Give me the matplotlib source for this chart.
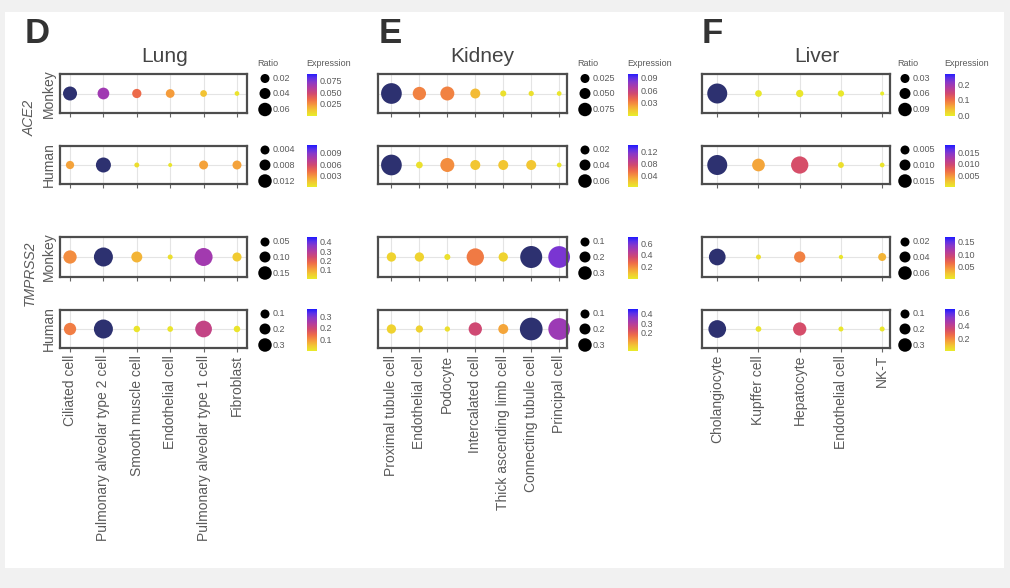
import matplotlib
matplotlib.use('Agg')
import matplotlib.pyplot as plt
import numpy as np
from matplotlib.colors import LinearSegmentedColormap, Normalize
from matplotlib.cm import ScalarMappable
from matplotlib.patches import Rectangle

plt.rcParams['font.family'] = ['Liberation Sans', 'DejaVu Sans']

# ---------------- DATA ----------------
tissues = ['Lung', 'Kidney', 'Liver']
panel_letters = ['D', 'E', 'F']
row_species = ['Monkey', 'Human', 'Monkey', 'Human']
gene_names = ['ACE2', 'TMPRSS2']

lung_cells = ['Ciliated cell', 'Pulmonary alveolar type 2 cell', 'Smooth muscle cell',
              'Endothelial cell', 'Pulmonary alveolar type 1 cell', 'Fibroblast']
kidney_cells = ['Proximal tubule cell', 'Endothelial cell', 'Podocyte', 'Intercalated cell',
                'Thick ascending limb cell', 'Connecting tubule cell', 'Principal cell']
liver_cells = ['Cholangiocyte', 'Kupffer cell', 'Hepatocyte', 'Endothelial cell', 'NK-T']

# Ratio (fraction of cells expressing) -> dot size; rows: ACE2 monkey, ACE2 human, TMPRSS2 monkey, TMPRSS2 human
lung_ratio = [[0.065, 0.038, 0.017, 0.014, 0.005, 0.002],
              [0.0022, 0.013, 0.0004, 0.0003, 0.0029, 0.0029],
              [0.063, 0.17, 0.035, 0.005, 0.147, 0.019],
              [0.086, 0.32, 0.011, 0.010, 0.222, 0.011]]
kidney_ratio = [[0.085, 0.026, 0.030, 0.011, 0.0026, 0.0021, 0.002],
                [0.065, 0.002, 0.0226, 0.008, 0.008, 0.008, 0.001],
                [0.023, 0.023, 0.010, 0.16, 0.023, 0.31, 0.30],
                [0.027, 0.014, 0.010, 0.078, 0.033, 0.33, 0.294]]
liver_ratio = [[0.10, 0.0038, 0.0052, 0.003, 0.001],
               [0.017, 0.0049, 0.0116, 0.0004, 0.0003],
               [0.065, 0.0022, 0.022, 0.002, 0.0076],
               [0.33, 0.006, 0.144, 0.005, 0.005]]

# Expression -> colour
lung_expr = [[0.10, 0.065, 0.035, 0.022, 0.012, 0.003],
             [0.0025, 0.013, 0.0006, 0.0003, 0.0025, 0.0025],
             [0.13, 0.55, 0.08, 0.02, 0.32, 0.05],
             [0.12, 0.40, 0.01, 0.01, 0.21, 0.01]]
kidney_expr = [[0.12, 0.032, 0.032, 0.016, 0.004, 0.004, 0.002],
               [0.16, 0.006, 0.040, 0.018, 0.018, 0.018, 0.004],
               [0.06, 0.06, 0.03, 0.24, 0.06, 0.80, 0.58],
               [0.04, 0.04, 0.02, 0.24, 0.10, 0.50, 0.33]]
liver_expr = [[0.30, 0.005, 0.006, 0.004, 0.001],
              [0.020, 0.004, 0.009, 0.0008, 0.0005],
              [0.20, 0.008, 0.055, 0.004, 0.030],
              [0.75, 0.020, 0.33, 0.015, 0.015]]

# Legend breaks and labels
lung_ratio_breaks = [[0.02, 0.04, 0.06], [0.004, 0.008, 0.012], [0.05, 0.10, 0.15], [0.1, 0.2, 0.3]]
lung_ratio_labels = [['0.02', '0.04', '0.06'], ['0.004', '0.008', '0.012'], ['0.05', '0.10', '0.15'], ['0.1', '0.2', '0.3']]
kidney_ratio_breaks = [[0.025, 0.050, 0.075], [0.02, 0.04, 0.06], [0.1, 0.2, 0.3], [0.1, 0.2, 0.3]]
kidney_ratio_labels = [['0.025', '0.050', '0.075'], ['0.02', '0.04', '0.06'], ['0.1', '0.2', '0.3'], ['0.1', '0.2', '0.3']]
liver_ratio_breaks = [[0.03, 0.06, 0.09], [0.005, 0.010, 0.015], [0.02, 0.04, 0.06], [0.1, 0.2, 0.3]]
liver_ratio_labels = [['0.03', '0.06', '0.09'], ['0.005', '0.010', '0.015'], ['0.02', '0.04', '0.06'], ['0.1', '0.2', '0.3']]

lung_expr_top = [0.09, 0.011, 0.45, 0.36]
lung_expr_breaks = [[0.025, 0.050, 0.075], [0.003, 0.006, 0.009], [0.1, 0.2, 0.3, 0.4], [0.1, 0.2, 0.3]]
lung_expr_labels = [['0.025', '0.050', '0.075'], ['0.003', '0.006', '0.009'], ['0.1', '0.2', '0.3', '0.4'], ['0.1', '0.2', '0.3']]
kidney_expr_top = [0.10, 0.14, 0.70, 0.45]
kidney_expr_breaks = [[0.03, 0.06, 0.09], [0.04, 0.08, 0.12], [0.2, 0.4, 0.6], [0.2, 0.3, 0.4]]
kidney_expr_labels = [['0.03', '0.06', '0.09'], ['0.04', '0.08', '0.12'], ['0.2', '0.4', '0.6'], ['0.2', '0.3', '0.4']]
liver_expr_top = [0.27, 0.018, 0.17, 0.65]
liver_expr_breaks = [[0.0, 0.1, 0.2], [0.005, 0.010, 0.015], [0.05, 0.10, 0.15], [0.2, 0.4, 0.6]]
liver_expr_labels = [['0.0', '0.1', '0.2'], ['0.005', '0.010', '0.015'], ['0.05', '0.10', '0.15'], ['0.2', '0.4', '0.6']]

# ---------------- STYLE / LAYOUT ----------------
W, H = 1010, 588
fig = plt.figure(figsize=(W / 100, H / 100), dpi=100, facecolor='#f1f1f1')
fig.patches.append(Rectangle((5 / W, 20 / H), 999 / W, 556 / H, transform=fig.transFigure,
                             facecolor='white', edgecolor='none', zorder=-10))

cmap = LinearSegmentedColormap.from_list('expr', [
    (0.00, '#e8ec2a'), (0.12, '#f2c832'), (0.25, '#f59a3c'), (0.38, '#ee6c48'),
    (0.52, '#d24a6e'), (0.66, '#b23ca0'), (0.80, '#8838c8'), (0.90, '#5a30e8'),
    (1.00, '#1e18ff')])
cmap.set_over('#2d3170')

def rect(x0, y0, x1, y1):
    return [x0 / W, 1 - y1 / H, (x1 - x0) / W, (y1 - y0) / H]

panel_x = [(60, 247), (378, 567), (702, 890)]
panel_pad = [(0.3, 0.3), (0.48, 0.28), (0.37, 0.19)]
row_y = [(74, 113), (146, 184), (237, 277), (310, 348)]
size_range = [  # dot diameter range in px (min, max) per row
    [(4.7, 14), (4, 15), (5, 19), (5.7, 19)],
    [(4.7, 20.7), (4.7, 20.7), (6, 22), (5.3, 22.7)],
    [(4, 20), (4.7, 20), (4.3, 16.7), (5, 17.7)],
]
legend_dot_dx = [18, 18, 15]
legend_cb_dx = [60, 61, 55]
legend_dot_px = [9, 11, 13.5]
title_x = [165, 482, 817]
letter_x = [25, 379, 702]
TXT = '#5a5a5a'

cells_all = [lung_cells, kidney_cells, liver_cells]
ratio_all = [lung_ratio, kidney_ratio, liver_ratio]
expr_all = [lung_expr, kidney_expr, liver_expr]
rbreaks_all = [lung_ratio_breaks, kidney_ratio_breaks, liver_ratio_breaks]
rlabels_all = [lung_ratio_labels, kidney_ratio_labels, liver_ratio_labels]
etop_all = [lung_expr_top, kidney_expr_top, liver_expr_top]
ebreaks_all = [lung_expr_breaks, kidney_expr_breaks, liver_expr_breaks]
elabels_all = [lung_expr_labels, kidney_expr_labels, liver_expr_labels]

def diam(v, dmin, dmax):
    v = np.asarray(v, float)
    t = (v - v.min()) / (v.max() - v.min())
    return dmin + (dmax - dmin) * np.sqrt(t)

overlay = fig.add_axes([0, 0, 1, 1], zorder=5)
overlay.set_xlim(0, W)
overlay.set_ylim(H, 0)
overlay.axis('off')
overlay.patch.set_alpha(0)

for p in range(3):
    x0, x1 = panel_x[p]
    cells = cells_all[p]
    n = len(cells)
    xs = np.arange(n)
    for r in range(4):
        y0, y1 = row_y[r]
        ax = fig.add_axes(rect(x0, y0, x1, y1))
        ax.set_xlim(-panel_pad[p][0], n - 1 + panel_pad[p][1])
        ax.set_ylim(-1, 1)
        for xv in xs:
            ax.axvline(xv, color='#e4e4e4', lw=0.8, zorder=0)
        ax.axhline(0, color='#e4e4e4', lw=0.8, zorder=0)
        norm = Normalize(vmin=0, vmax=etop_all[p][r])
        d = diam(ratio_all[p][r], *size_range[p][r])
        ax.scatter(xs, np.zeros(n), s=(d * 0.72) ** 2, c=expr_all[p][r], cmap=cmap, norm=norm,
                   edgecolors='none', zorder=3, clip_on=False)
        ax.set_yticks([])
        ax.set_xticks(xs)
        ax.tick_params(axis='x', length=3, width=0.8, color='#666666', direction='out', pad=2)
        if r == 3:
            ax.set_xticklabels(cells, rotation=90, fontsize=10, color=TXT)
        else:
            ax.set_xticklabels([])
        for s in ax.spines.values():
            s.set_color('#4d4d4d')
            s.set_linewidth(1.6)
            s.set_zorder(4)

        # size legend
        yc = (y0 + y1) / 2
        lx = x1 + legend_dot_dx[p]
        for k, (lab, dp) in enumerate(zip(rlabels_all[p][r], legend_dot_px)):
            yy = yc + (-15, 0, 16)[k]
            overlay.scatter([lx], [yy], s=(dp * 0.72) ** 2, color='black', edgecolors='none')
            overlay.text(lx + 7.5, yy, lab, fontsize=6.5, color=TXT, ha='left', va='center')
        # colour legend
        cbx = x1 + legend_cb_dx[p]
        cax = fig.add_axes(rect(cbx, yc - 20, cbx + 10, yc + 22))
        cb = fig.colorbar(ScalarMappable(norm=norm, cmap=cmap), cax=cax, ticks=ebreaks_all[p][r])
        cb.set_ticklabels(elabels_all[p][r])
        cb.outline.set_visible(False)
        cax.tick_params(length=0, pad=2, labelsize=6.5, labelcolor=TXT)
        if r == 0:
            overlay.text(lx - 8, 64, 'Ratio', fontsize=6.5, color=TXT, ha='left', va='center')
            overlay.text(cbx - 1, 64, 'Expression', fontsize=6.5, color=TXT, ha='left', va='center')

    overlay.text(title_x[p], 62, tissues[p], fontsize=15, color='#444444', ha='center', va='baseline')
    overlay.text(letter_x[p], 43, panel_letters[p], fontsize=25, fontweight='bold', color='#333333',
                 ha='left', va='baseline')

# row labels (lung panel only)
for r in range(4):
    y0, y1 = row_y[r]
    overlay.text(49, (y0 + y1) / 2, row_species[r], fontsize=10, color=TXT, rotation=90,
                 ha='center', va='center')
overlay.text(30, 118, gene_names[0], fontsize=10, color=TXT, rotation=90, style='italic',
             ha='center', va='center')
overlay.text(30, 273, gene_names[1], fontsize=10, color=TXT, rotation=90, style='italic',
             ha='center', va='center')

fig.savefig('out.png', dpi=100, facecolor=fig.get_facecolor())
